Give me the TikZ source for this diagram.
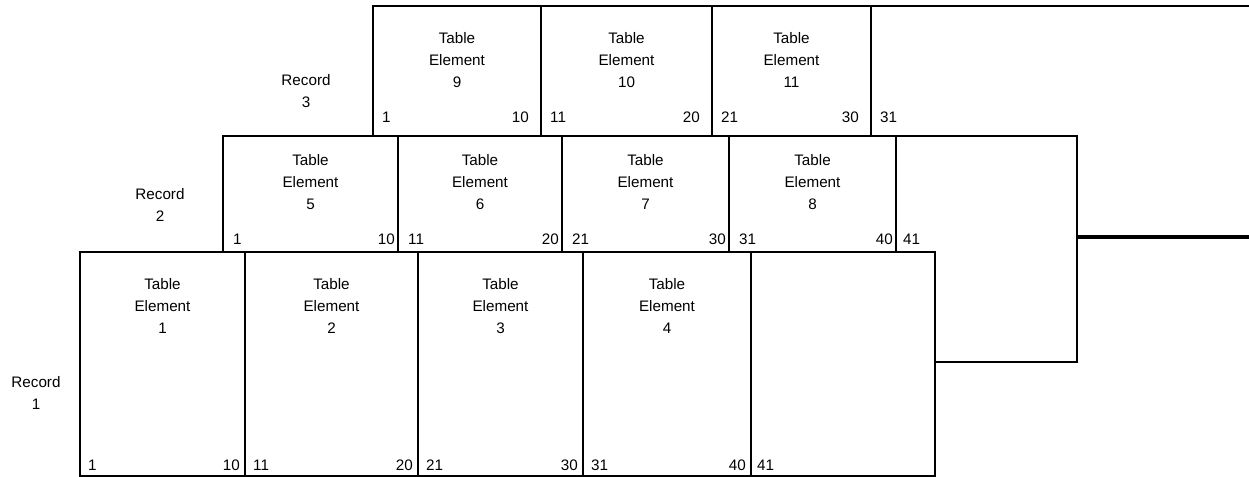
\documentclass[tikz,border=0pt]{standalone}
\usepackage{fontspec}
\setmainfont{Liberation Sans}

\newcommand*{\xmax}{1249}
\newcommand*{\ymax}{477}

\begin{document}
\begin{tikzpicture}
[
	x=0.03cm,y=-0.03cm,
	rec/.style={line width=2.4pt,line join=miter},
	elem/.style={align=center,inner sep=0pt,font=\fontsize{13}{18.7}\selectfont},
	num/.style={inner sep=0pt,font=\fontsize{13}{14}\selectfont},
	reclabel/.style={align=center,inner sep=0pt,font=\fontsize{13}{18.7}\selectfont}
]
	\useasboundingbox (0,0) rectangle (\xmax,\ymax);

	% record 3
	\draw[rec] (\xmax,6) -- (373,6) -- (373,136);
	\draw[rec,line width=3.6pt] (1077,237) -- (\xmax,237);
	\foreach \l/\r/\n/\a/\b in {373/541/9/1/10,541/712/10/11/20,712/871/11/21/30} {
		\draw[rec] (\r,6) -- (\r,136);
		\node[elem] (elem\n) at ({(\l+\r)/2},60) {Table\\Element\\\n};
		\node[num,anchor=west] (lo\n) at (\l+9,117) {\a};
		\node[num,anchor=east] (hi\n) at (\r-12,117) {\b};
	}
	\node[num,anchor=west] (lo12) at (880,117) {31};
	\node[reclabel] (rec3) at (306,91) {Record\\3};

	% record 2
	\draw[rec] (223,252) -- (223,136) -- (1077,136) -- (1077,362) -- (935,362);
	\foreach \l/\r/\n/\a/\b in {223/398/5/1/10,398/562/6/11/20,562/729/7/21/30,729/896/8/31/40} {
		\draw[rec] (\r,136) -- (\r,252);
		\node[elem] (elem\n) at ({(\l+\r)/2},182) {Table\\Element\\\n};
		\node[num,anchor=west] (lo\n) at (\l+10,239) {\a};
		\node[num,anchor=east] (hi\n) at (\r-3,239) {\b};
	}
	\node[num,anchor=west] (lo13) at (903,239) {41};
	\node[reclabel] (rec2) at (160,205) {Record\\2};

	% record 1
	\draw[rec] (80,252) rectangle (935,476);
	\foreach \l/\r/\n/\a/\b in {80/245/1/1/10,245/418/2/11/20,418/583/3/21/30,583/751/4/31/40} {
		\draw[rec] (\r,252) -- (\r,476);
		\node[elem] (elem\n) at ({(\l+\r)/2},306) {Table\\Element\\\n};
		\node[num,anchor=west] (lo\n) at (\l+8,465) {\a};
		\node[num,anchor=east] (hi\n) at (\r-5,465) {\b};
	}
	\node[num,anchor=west] (lo14) at (757,465) {41};
	\node[reclabel] (rec1) at (36,393) {Record\\1};

\end{tikzpicture}
\end{document}
